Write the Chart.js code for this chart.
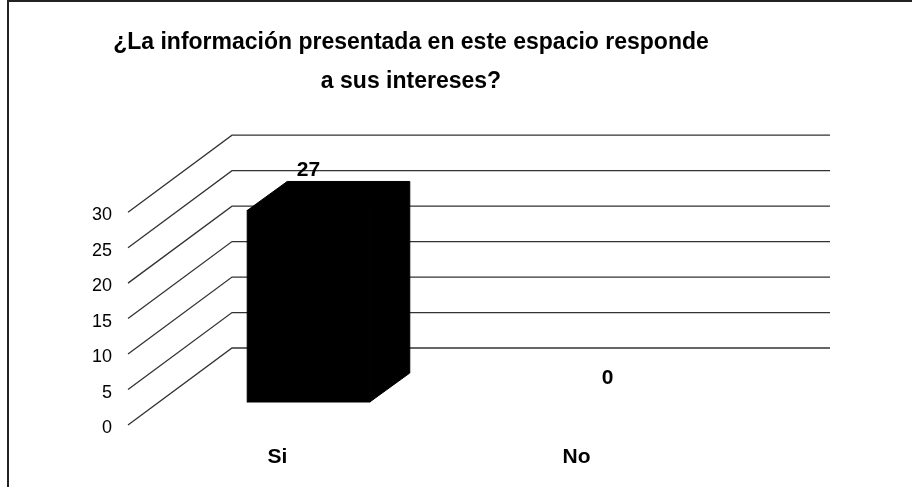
<!DOCTYPE html>
<html>
<head>
<meta charset="utf-8">
<script src="https://cdn.jsdelivr.net/npm/chart.js@4.4.0/dist/chart.umd.min.js"></script>
<style>
  html, body { margin: 0; padding: 0; background: #fff; }
</style>
</head>
<body>
<canvas id="chartJSContainer" width="912" height="487"></canvas>
<script>
const categories = ['Si', 'No'];
const responses = [27, 0];
const yTicks = [0, 5, 10, 15, 20, 25, 30];
const titleLines = ['¿La información presentada en este espacio responde', 'a sus intereses?'];

const FONT = '"Liberation Sans", Arial, sans-serif';

// fake 3D: offsets in px
const wallDepth = { dx: 104, dy: -77 };   // front edge of floor -> back wall
const frontShift = { dx: -31, dy: 23 };   // bar plane -> front edge of floor
const barDepth = { dx: 40, dy: -29 };     // bar front face -> bar back face

const framePlugin = {
    id: 'frame',
    beforeDraw(chart) {
        const ctx = chart.ctx;
        ctx.save();
        ctx.fillStyle = '#fff';
        ctx.fillRect(0, 0, chart.width, chart.height);
        ctx.strokeStyle = '#222';
        ctx.lineWidth = 2;
        ctx.beginPath();
        ctx.moveTo(8, chart.height);
        ctx.lineTo(8, 1);
        ctx.lineTo(chart.width, 1);
        ctx.stroke();
        ctx.restore();
    }
};

const wallPlugin = {
    id: 'wall3d',
    beforeDatasetsDraw(chart) {
        const { ctx, chartArea, scales } = chart;
        const y = scales.y;
        const x0 = chartArea.left + frontShift.dx;
        const xEnd = chartArea.right + frontShift.dx + wallDepth.dx;
        ctx.save();
        ctx.strokeStyle = '#333';
        ctx.lineWidth = 1.3;
        y.ticks.forEach(t => {
            const yf = y.getPixelForValue(t.value) + frontShift.dy;
            ctx.beginPath();
            ctx.moveTo(x0, yf);
            ctx.lineTo(x0 + wallDepth.dx, yf + wallDepth.dy);
            ctx.lineTo(xEnd, yf + wallDepth.dy);
            ctx.stroke();
        });
        ctx.restore();
    },
    afterDatasetsDraw(chart) {
        const ctx = chart.ctx;
        const meta = chart.getDatasetMeta(0);
        ctx.save();
        meta.data.forEach((bar, i) => {
            const v = responses[i];
            const { x, y, base, width } = bar.getProps(['x', 'y', 'base', 'width'], true);
            const l = x - width / 2, r = x + width / 2;
            if (v > 0) {
                ctx.fillStyle = '#000';
                ctx.strokeStyle = '#000';
                ctx.lineWidth = 1;
                ctx.beginPath();
                ctx.moveTo(l, y);
                ctx.lineTo(l + barDepth.dx, y + barDepth.dy);
                ctx.lineTo(r + barDepth.dx, y + barDepth.dy);
                ctx.lineTo(r + barDepth.dx, base + barDepth.dy);
                ctx.lineTo(r, base);
                ctx.lineTo(r, y);
                ctx.closePath();
                ctx.fill();
                ctx.stroke();
                ctx.strokeRect(l, y, width, base - y);
            }
            ctx.fillStyle = '#000';
            ctx.font = 'bold 21px ' + FONT;
            ctx.textAlign = 'center';
            ctx.textBaseline = 'middle';
            // label sits above the top face, or just above the floor for 0
            ctx.fillText(String(v), x, v > 0 ? y + barDepth.dy - 11 : base - 24);
        });
        ctx.restore();
    }
};

let options = {
    type: 'bar',
    data: {
        labels: categories,
        datasets: [{
            data: responses,
            backgroundColor: '#000',
            borderWidth: 0,
            categoryPercentage: 1,
            barPercentage: 0.41
        }]
    },
    options: {
        responsive: false,
        animation: false,
        layout: { padding: { left: 0, right: 90, top: 0, bottom: 0 } },
        plugins: {
            legend: { display: false },
            tooltip: { enabled: false },
            title: {
                display: true,
                text: titleLines,
                color: '#000',
                font: { family: FONT, size: 23, weight: 'bold', lineHeight: 1.7 },
                padding: { top: 23.5, bottom: 87.5 }
            }
        },
        scales: {
            x: {
                grid: { display: false, drawTicks: false },
                border: { display: false },
                ticks: {
                    color: '#000',
                    font: { family: FONT, size: 21, weight: 'bold' },
                    padding: 43,
                    labelOffset: frontShift.dx
                },
                afterFit: (s) => { s.height = 85; }
            },
            y: {
                min: 0,
                max: 30,
                grid: { display: false, drawTicks: false },
                border: { display: false },
                ticks: {
                    color: '#000',
                    font: { family: FONT, size: 18 },
                    padding: 47,
                    labelOffset: frontShift.dy + 3
                },
                afterBuildTicks: (s) => { s.ticks = yTicks.map(v => ({ value: v })); },
                afterFit: (s) => { s.width = 159; }
            },
            // empty axis that only reserves room on the right
            yRight: {
                position: 'right',
                grid: { display: false, drawTicks: false },
                border: { display: false },
                ticks: { display: false },
                afterFit: (s) => { s.width = 65; }
            }
        }
    },
    plugins: [framePlugin, wallPlugin]
};

let ctx = document.getElementById('chartJSContainer').getContext('2d');
window.chart = new Chart(ctx, options);
</script>
</body>
</html>
